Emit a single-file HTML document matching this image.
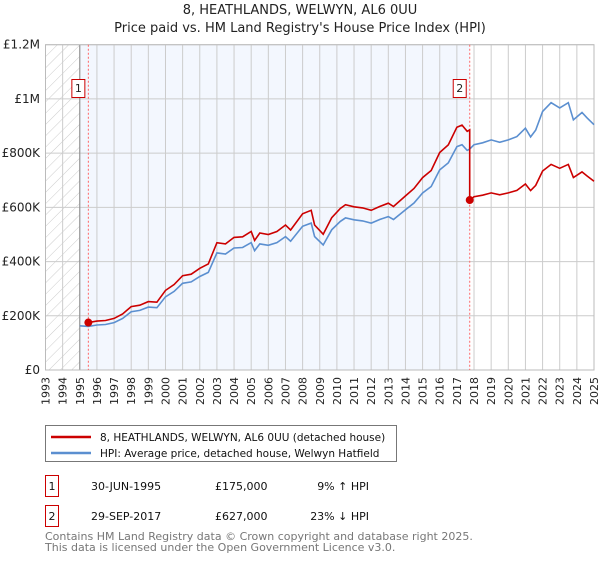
<!DOCTYPE html>
<html><head><meta charset="utf-8">
<style>
body{margin:0;background:#fff;font-family:"Liberation Sans","DejaVu Sans",sans-serif;}
svg text{font-family:"DejaVu Sans","Liberation Sans",sans-serif;}
</style></head>
<body>
<svg id="chart" width="600" height="560" viewBox="0 0 600 560">
<defs>
<pattern id="hatch" width="8" height="8" patternUnits="userSpaceOnUse" patternTransform="rotate(45)">
<line x1="0" y1="0" x2="0" y2="8" stroke="#ccc" stroke-width="1"/>
</pattern>
</defs>
<text x="300" y="14" text-anchor="middle" font-size="13" fill="#222">8, HEATHLANDS, WELWYN, AL6 0UU</text>
<text x="300" y="32" text-anchor="middle" font-size="13" fill="#222">Price paid vs. HM Land Registry's House Price Index (HPI)</text>
<g id="plot"></g>
<g>
<rect x="45.5" y="425.5" width="351" height="36" fill="#fff" stroke="#777"/>
<line x1="51" y1="437" x2="91" y2="437" stroke="#cc0000" stroke-width="2.5"/>
<text x="100" y="441" font-size="10.5" fill="#111">8, HEATHLANDS, WELWYN, AL6 0UU (detached house)</text>
<line x1="51" y1="453" x2="91" y2="453" stroke="#5b8fd0" stroke-width="2.5"/>
<text x="100" y="457" font-size="10.5" fill="#111">HPI: Average price, detached house, Welwyn Hatfield</text>
</g>
<g font-size="11" fill="#111">
<rect x="45.5" y="475.5" width="13" height="21" fill="#fff" stroke="#cc0000"/>
<text x="52" y="490" text-anchor="middle">1</text>
<text x="91" y="490">30-JUN-1995</text>
<text x="215" y="490">£175,000</text>
<text x="369" y="490" text-anchor="end">9% ↑ HPI</text>
<rect x="45.5" y="505.5" width="13" height="21" fill="#fff" stroke="#cc0000"/>
<text x="52" y="520" text-anchor="middle">2</text>
<text x="91" y="520">29-SEP-2017</text>
<text x="215" y="520">£627,000</text>
<text x="369" y="520" text-anchor="end">23% ↓ HPI</text>
</g>
<text x="45" y="540" font-size="11" fill="#777">Contains HM Land Registry data © Crown copyright and database right 2025.</text>
<text x="45" y="551" font-size="11" fill="#777">This data is licensed under the Open Government Licence v3.0.</text>
</svg>
<script>
const hpiYears = [1995.0,1995.5,1996.0,1996.5,1997.0,1997.5,1998.0,1998.5,1999.0,1999.5,2000.0,2000.5,2001.0,2001.5,2002.0,2002.5,2003.0,2003.5,2004.0,2004.5,2005.0,2005.2,2005.5,2006.0,2006.5,2007.0,2007.3,2008.0,2008.5,2008.7,2009.2,2009.7,2010.2,2010.5,2011.0,2011.5,2012.0,2012.5,2013.0,2013.3,2014.0,2014.5,2015.0,2015.5,2016.0,2016.5,2017.0,2017.3,2017.6,2017.75,2018.0,2018.5,2019.0,2019.5,2020.0,2020.5,2021.0,2021.3,2021.6,2022.0,2022.5,2023.0,2023.5,2023.8,2024.3,2024.6,2025.0];
const hpiValues = [163000,161000,166000,168000,175000,190000,215000,220000,232000,230000,270000,290000,320000,325000,345000,360000,432000,428000,450000,452000,470000,440000,465000,460000,470000,492000,475000,530000,542000,492000,461000,517000,548000,561000,554000,550000,542000,555000,566000,555000,591000,616000,653000,677000,738000,764000,824000,831000,810000,815000,831000,838000,849000,840000,849000,861000,892000,860000,885000,954000,986000,967000,986000,923000,950000,930000,905000];
const saleYears = [1995.5, 2017.75];
const salePrices = [175000, 627000];
const yTicks = [0,200000,400000,600000,800000,1000000,1200000];
const yTickLabels = ["£0","£200K","£400K","£600K","£800K","£1M","£1.2M"];
const xTicks = [1993,1994,1995,1996,1997,1998,1999,2000,2001,2002,2003,2004,2005,2006,2007,2008,2009,2010,2011,2012,2013,2014,2015,2016,2017,2018,2019,2020,2021,2022,2023,2024,2025];

const L=45.5,R=594,T=44.7,B=370;
const xS=y=>L+(y-1993)/32*(R-L);
const yS=v=>B-v/1200000*(B-T);
const NS="http://www.w3.org/2000/svg";
const g=document.getElementById('plot');
function mk(tag,attrs,parent){const e=document.createElementNS(NS,tag);for(const k in attrs)e.setAttribute(k,attrs[k]);(parent||g).appendChild(e);return e;}

let bg=mk('rect',{x:L,y:T,width:R-L,height:B-T,fill:'#fff'});


let hat=mk('rect',{x:L,y:T,width:xS(1995)-L,height:B-T,fill:'url(#hatch)'});


let sh=mk('rect',{x:xS(1995),y:T,width:xS(saleYears[1])-xS(1995),height:B-T,fill:'#eef3fd',opacity:0.7});



xTicks.forEach(t=>{
  let l=mk('line',{x1:xS(t),x2:xS(t),y1:T,y2:B,stroke:'#ccc','stroke-width':1});
  
  
  let tx=mk('text',{x:0,y:0,'font-size':11,fill:'#222','text-anchor':'end',transform:`translate(${xS(t)+4},377) rotate(-90)`});
  tx.textContent=t;
  
  
});
yTicks.forEach((t,i)=>{
  let l=mk('line',{x1:L,x2:R,y1:yS(t),y2:yS(t),stroke:'#ccc','stroke-width':1});
  
  
  let tx=mk('text',{x:40,y:yS(t)+4,'font-size':12,fill:'#222','text-anchor':'end'});
  tx.textContent=yTickLabels[i];
  
  
});
let bl=mk('line',{x1:xS(1995),x2:xS(1995),y1:T,y2:B,stroke:'#888','stroke-width':1});


let fr=mk('rect',{x:L,y:T,width:R-L,height:B-T,fill:'none',stroke:'#bbb'});



function hpiAt(y){for(let i=0;i<hpiYears.length-1;i++){if(y<=hpiYears[i+1]){const f=(y-hpiYears[i])/(hpiYears[i+1]-hpiYears[i]);return hpiValues[i]+f*(hpiValues[i+1]-hpiValues[i]);}}return hpiValues[hpiValues.length-1];}

saleYears.forEach((s,i)=>{
  let l=mk('line',{x1:xS(s),x2:xS(s),y1:T,y2:B,stroke:'#ff6666','stroke-width':1,'stroke-dasharray':'2,2'});
  
  
  let bx=mk('rect',{x:xS(s)-16.5,y:79.5,width:13,height:18,fill:'#fff',stroke:'#cc0000'});
  
  
  let tx=mk('text',{x:xS(s)-10,y:92,'font-size':11,fill:'#222','text-anchor':'middle'});
  tx.textContent=String(i+1);
  
  
});

let dH=hpiYears.map((y,i)=>(i?'L':'M')+xS(y).toFixed(1)+','+yS(hpiValues[i]).toFixed(1)).join(' ');
let hp=mk('path',{d:dH,fill:'none',stroke:'#5b8fd0','stroke-width':1.6});



const r1=salePrices[0]/hpiAt(saleYears[0]), r2=salePrices[1]/hpiAt(saleYears[1]);
let pts=[[saleYears[0],salePrices[0]]];
hpiYears.forEach((y,i)=>{if(y>saleYears[0]&&y<saleYears[1])pts.push([y,hpiValues[i]*r1]);});
pts.push([saleYears[1],hpiAt(saleYears[1])*r1]);
pts.push([saleYears[1],salePrices[1]]);
hpiYears.forEach((y,i)=>{if(y>saleYears[1])pts.push([y,hpiValues[i]*r2]);});
let dP=pts.map((p,i)=>(i?'L':'M')+xS(p[0]).toFixed(1)+','+yS(p[1]).toFixed(1)).join(' ');
let pp=mk('path',{d:dP,fill:'none',stroke:'#cc0000','stroke-width':1.6});



saleYears.forEach((s,i)=>{
  let c=mk('circle',{cx:xS(s),cy:yS(salePrices[i]),r:4,fill:'#cc0000'});
  
  
});
</script>
</body></html>
